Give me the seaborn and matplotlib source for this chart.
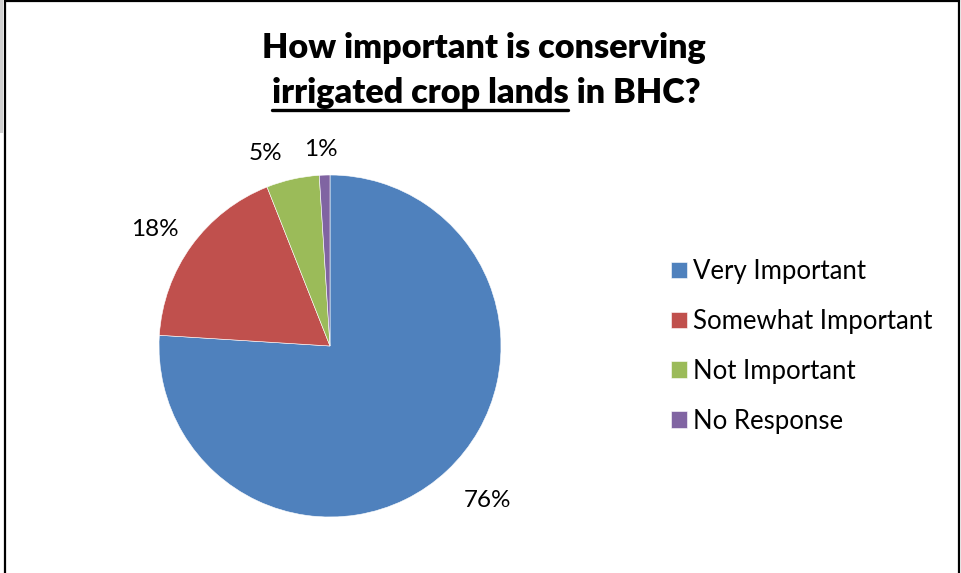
import numpy as np
import matplotlib
matplotlib.use("Agg")
import matplotlib.pyplot as plt
from matplotlib.lines import Line2D
from matplotlib.patches import Rectangle
import seaborn as sns

# Survey responses
categories = ["Very Important", "Somewhat Important", "Not Important", "No Response"]
shares = [76, 18, 5, 1]
colors = ["#4F81BD", "#C0504D", "#9BBB59", "#8064A2"]

title_line1 = "How important is conserving"
title_underlined = "irrigated crop lands"
title_rest = " in BHC?"

sns.set_theme(style="white")
plt.rcParams["font.family"] = ["Lato", "DejaVu Sans"]
plt.rcParams["text.color"] = "black"

W, H = 962, 573
fig = plt.figure(figsize=(W / 100, H / 100), dpi=100)
fig.patch.set_facecolor("white")

# frame of the chart area and the grey strip at the top-left edge
fig.add_artist(Rectangle((0, 1 - 133 / H), 3 / W, 133 / H, transform=fig.transFigure,
                         facecolor="#d0d0d0", edgecolor="none"))
fig.add_artist(Line2D([5 / W, 5 / W], [0, 1], transform=fig.transFigure, color="black", lw=1.6))
fig.add_artist(Line2D([959 / W, 959 / W], [0, 1], transform=fig.transFigure, color="black", lw=1.6))
fig.add_artist(Line2D([5 / W, 959 / W], [1 - 1 / H, 1 - 1 / H], transform=fig.transFigure,
                      color="black", lw=1.6))

# pie axes: radius 171 px, centred at (330, 346)
r = 171
cx, cy = 330, 346
ax = fig.add_axes([(cx - r) / W, 1 - (cy + r) / H, 2 * r / W, 2 * r / H])
wedges, texts, autotexts = ax.pie(
    shares, colors=colors, startangle=90, counterclock=False,
    autopct=lambda p: f"{p:.0f}%", pctdistance=1.2,
    wedgeprops=dict(edgecolor="white", linewidth=0.4),
    textprops=dict(fontsize=17.5, color="black"),
)
ax.set_xlim(-1, 1)
ax.set_ylim(-1, 1)
ax.set_aspect("equal")
ax.axis("off")

# percentage labels set outside each slice ("best fit" style placement)
label_dist = [1.29, 1.23, 1.19, 1.15]
label_turn = [2.5, 2.5, 6, 1]
for w, t, d, turn in zip(wedges, autotexts, label_dist, label_turn):
    ang = np.deg2rad((w.theta1 + w.theta2) / 2 + turn)
    t.set_position((d * np.cos(ang), d * np.sin(ang)))
    t.set_ha("center")
    t.set_va("center")

# legend
ax.legend(wedges, categories, loc="upper left", bbox_to_anchor=(671 / W, 1 - 259 / H),
          bbox_transform=fig.transFigure, frameon=False, fontsize=18.5,
          handlelength=0.62, handleheight=0.62, handletextpad=0.25, labelspacing=0.97,
          borderpad=0, borderaxespad=0)

# title, two lines, with part of the second line underlined
tsize = 24.6
fig.text(484 / W, 1 - 58 / H, title_line1, ha="center", va="baseline",
         fontsize=tsize, fontweight="heavy")
line2 = fig.text(486 / W, 1 - 103 / H, title_underlined + title_rest, ha="center",
                 va="baseline", fontsize=tsize, fontweight="heavy")
fig.canvas.draw()
renderer = fig.canvas.get_renderer()
bb = line2.get_window_extent(renderer)
probe = fig.text(0, 0, title_underlined, fontsize=tsize, fontweight="heavy")
pw = probe.get_window_extent(renderer).width
probe.remove()
x0 = bb.x0 / W
x1 = (bb.x0 + pw) / W
uy = 1 - 110 / H
fig.add_artist(Line2D([x0, x1], [uy, uy], transform=fig.transFigure, color="black", lw=2.4))

fig.savefig("out.png", dpi=100, facecolor="white")
